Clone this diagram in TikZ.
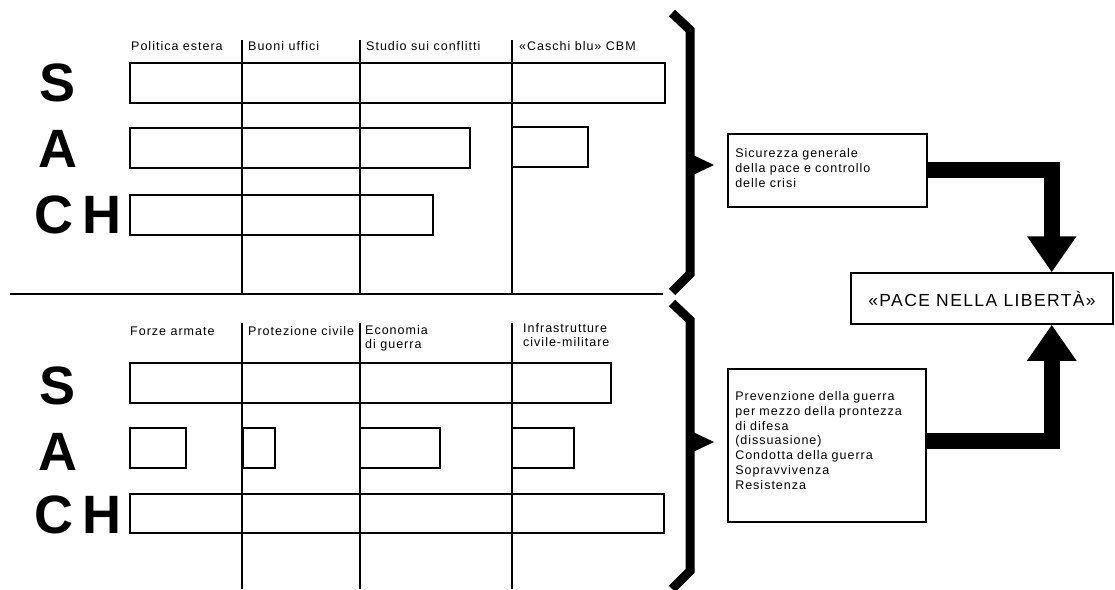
\documentclass[tikz,border=0pt]{standalone}
\usepackage{fontspec}
\setmainfont{Liberation Sans}
\newfontfamily\trackfont{Liberation Sans}[LetterSpace=8]
\usetikzlibrary{arrows.meta}

\begin{document}
\begin{tikzpicture}[x=1pt,y=-1pt,
  bar/.style={draw, line width=1.5pt},
  hdr/.style={anchor=base west, inner sep=0pt, font=\trackfont\fontsize{12.5}{14}\selectfont},
  hdrtwo/.style={anchor=north west, inner sep=0pt, align=left, font=\trackfont\fontsize{12.5}{14}\selectfont},
  big/.style={inner sep=0pt, font=\bfseries\fontsize{54}{54}\selectfont},
  info/.style={draw, line width=1.5pt, anchor=north west, align=left, inner xsep=7pt, inner ysep=0pt, font=\trackfont\fontsize{12.5}{14.7}\selectfont},
  fat/.style={line width=16pt, line join=miter, -{Triangle[width=47pt,length=36pt]}},
  brace/.style={line width=9pt, line join=miter}]
\useasboundingbox (0,0) rectangle (1115,589);

\node[big] (s1) at (58,83) {S};
\node[big] (a1) at (58,149) {A};
\node[big] (ch1) at (78,215) {C\kern9pt H};
\node[big] (s2) at (58,386) {S};
\node[big] (a2) at (58,452) {A};
\node[big] (ch2) at (78,515) {C\kern9pt H};

\node[hdr] (h1) at (131,50) {Politica estera};
\node[hdr] (h2) at (248,50) {Buoni uffici};
\node[hdr] (h3) at (366,50) {Studio sui conflitti};
\node[hdr] (h4) at (519,50) {«Caschi blu» CBM};
\node[hdr] (h5) at (130,335) {Forze armate};
\node[hdr] (h6) at (248,335) {Protezione civile};
\node[hdrtwo] (h7) at (365,325) {Economia\\di guerra};
\node[hdrtwo] (h8) at (523,323) {Infrastrutture\\civile-militare};

\path[draw,line width=1.5pt] (242,40) -- (242,295);
\path[draw,line width=1.5pt] (360,40) -- (360,295);
\path[draw,line width=1.5pt] (512,40) -- (512,295);
\path[draw,line width=1.5pt] (10,294) -- (663,294);
\path[draw,line width=1.5pt] (242,323) -- (242,589);
\path[draw,line width=1.5pt] (360,323) -- (360,589);
\path[draw,line width=1.5pt] (512,323) -- (512,589);

\draw[bar] (130,63) rectangle (665,103);
\draw[bar] (130,128) rectangle (470,168);
\draw[bar] (512,127) rectangle (588,167);
\draw[bar] (130,195) rectangle (433,235);
\draw[bar] (130,363) rectangle (611,403);
\draw[bar] (130,428) rectangle (186,468);
\draw[bar] (243,428) rectangle (275,468);
\draw[bar] (360,428) rectangle (440,468);
\draw[bar] (512,428) rectangle (574,468);
\draw[bar] (130,494) rectangle (664,533);

\draw[brace] (672,13) -- (690,30) -- (690,274) -- (672,292);
\fill (693,155) -- (714,165) -- (693,175) -- cycle;
\draw[brace] (672,303) -- (690,320) -- (690,571) -- (672,589);
\fill (693,432) -- (714,442) -- (693,452) -- cycle;

\node[info, text width=184pt, minimum width=199pt, minimum height=73pt] (sic) at (727,133)
  {Sicurezza generale\\della pace e controllo\\delle crisi\\[-10pt]\mbox{}};
\node[info, text width=183pt, minimum width=198pt, minimum height=153pt] (prev) at (727,368)
  {Prevenzione della guerra\\per mezzo della prontezza\\di difesa\\(dissuasione)\\Condotta della guerra\\Sopravvivenza\\Resistenza\\[-5pt]\mbox{}};
\node[draw, line width=1.5pt, minimum width=262pt, minimum height=51pt,
  font=\trackfont\fontsize{17.5}{17.5}\selectfont] (pace) at (982,298.5) {«PACE NELLA LIBERTÀ»};

\path[draw,fat] (sic.east) -| ([xshift=-62pt]pace.north east);
\path[draw,fat] ([yshift=4pt]prev.east) -| ([xshift=-62pt]pace.south east);
\end{tikzpicture}
\end{document}
